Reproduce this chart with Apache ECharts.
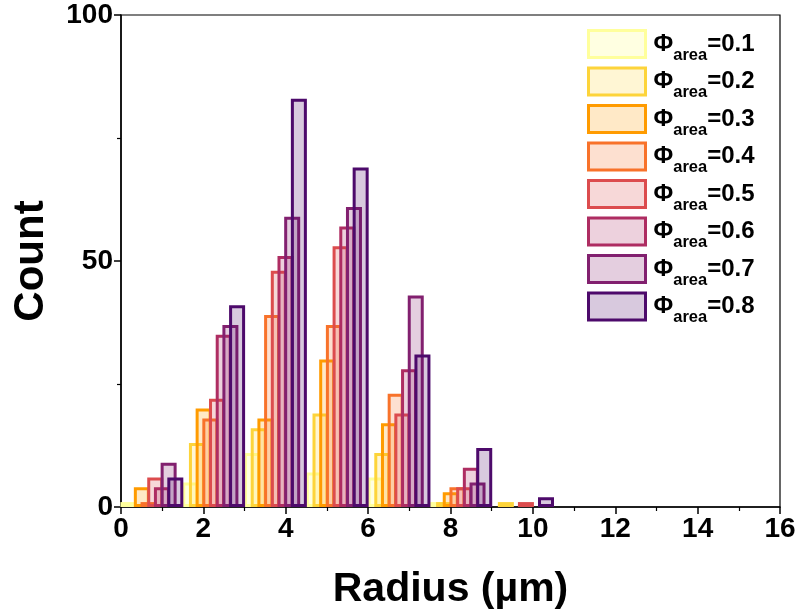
<!DOCTYPE html>
<html>
<head>
<meta charset="utf-8">
<script src="https://cdn.jsdelivr.net/npm/echarts@6/dist/echarts.min.js"></script>
<style>
  html, body { margin: 0; padding: 0; background: #fff; }
  #main { width: 801px; height: 615px; }
</style>
</head>
<body>
<div id="main"></div>
<script>
// bin centres of the histogram (radius, µm)
const binCenters = [0.75, 2.25, 3.75, 5.25, 6.75, 8.25, 9.75];
// counts per bin for each area fraction
const phi01 = [1, 5, 11, 7, 6, 1, 0];
const phi02 = [0, 13, 16, 19, 11, 1, 1];
const phi03 = [4, 20, 18, 30, 17, 3, 0];
const phi04 = [1, 18, 39, 37, 23, 4, 0];
const phi05 = [6, 22, 48, 53, 19, 4, 1];
const phi06 = [4, 35, 51, 57, 28, 8, 0];
const phi07 = [9, 37, 59, 61, 43, 5, 0];
const phi08 = [6, 41, 83, 69, 31, 12, 2];
const phiLabels = ['0.1', '0.2', '0.3', '0.4', '0.5', '0.6', '0.7', '0.8'];
const xTicks = [0, 2, 4, 6, 8, 10, 12, 14, 16];
const yTicks = [0, 50, 100];

const allCounts = [phi01, phi02, phi03, phi04, phi05, phi06, phi07, phi08];
const colors = ['#FFFF9C', '#FDD43A', '#FF9B00', '#F8722A', '#DC4C4E', '#AE2D62', '#82206F', '#4D0A6B'];

function fade(hex, a) {
  const r = parseInt(hex.slice(1, 3), 16), g = parseInt(hex.slice(3, 5), 16), b = parseInt(hex.slice(5, 7), 16);
  return 'rgba(' + r + ',' + g + ',' + b + ',' + a + ')';
}

const step = 0.1625; // shift of each series inside a bin
const series = allCounts.map(function (counts, i) {
  const pts = [];
  counts.forEach(function (c, k) {
    if (c > 0) pts.push([binCenters[k] + (i - 3.5) * step, c]);
  });
  return {
    name: phiLabels[i],
    type: 'bar',
    data: pts,
    barWidth: 16,
    barGap: '-100%',
    itemStyle: {
      color: fade(colors[i], i === 0 ? 0.3 : 0.22),
      borderColor: colors[i],
      borderWidth: 3
    },
    emphasis: { disabled: true }
  };
});

const font = 'Liberation Sans, Arial, sans-serif';
let myChart = echarts.init(document.getElementById('main'));
myChart.setOption({
  animation: false,
  grid: {
    left: 121, right: 21, top: 15, bottom: 108,
    outerBoundsMode: 'none',
    containLabel: false,
    show: true, borderColor: '#000', borderWidth: 1.2
  },
  legend: {
    orient: 'vertical',
    left: 582,
    top: 24,
    icon: 'rect',
    itemWidth: 57,
    itemHeight: 27,
    itemGap: 3,
    data: phiLabels.map(function (n, i) {
      return { name: n, itemStyle: { color: fade(colors[i], i === 0 ? 0.3 : 0.22), borderColor: colors[i], borderWidth: 3 } };
    }),
    formatter: function (n) { return '{a|Φ}{b|area}{a|=' + n + '}'; },
    textStyle: {
      padding: [0, 0, 0, 3],
      rich: {
        a: { fontFamily: font, fontWeight: 'bold', fontSize: 24, color: '#000', lineHeight: 25, verticalAlign: 'middle' },
        b: { fontFamily: font, fontWeight: 'bold', fontSize: 16.5, color: '#000', lineHeight: 25, verticalAlign: 'bottom', padding: [0, 0, -7, 0] }
      }
    }
  },
  xAxis: {
    type: 'value',
    min: 0, max: 16, interval: 2,
    name: 'Radius (µm)',
    nameLocation: 'middle',
    nameGap: 62,
    nameTextStyle: { fontFamily: font, fontWeight: 'bold', fontSize: 41, color: '#000' },
    axisLine: { lineStyle: { color: '#000', width: 1.5 } },
    axisTick: { length: 7, lineStyle: { color: '#000', width: 1.5 } },
    minorTick: { show: true, splitNumber: 2, length: 4, lineStyle: { color: '#000', width: 1.2 } },
    splitLine: { show: false },
    axisLabel: {
      margin: 8,
      fontFamily: font, fontWeight: 'bold', fontSize: 28, color: '#000',
      formatter: function (v) { return xTicks.indexOf(v) >= 0 ? String(v) : ''; }
    }
  },
  yAxis: {
    type: 'value',
    min: 0, max: 100, interval: 50,
    name: 'Count',
    nameLocation: 'middle',
    nameGap: 69,
    nameTextStyle: { fontFamily: font, fontWeight: 'bold', fontSize: 42, color: '#000' },
    axisLine: { show: true, lineStyle: { color: '#000', width: 1.5 } },
    axisTick: { show: true, length: 7, lineStyle: { color: '#000', width: 1.5 } },
    minorTick: { show: true, splitNumber: 2, length: 4, lineStyle: { color: '#000', width: 1.2 } },
    splitLine: { show: false },
    axisLabel: {
      margin: 8,
      fontFamily: font, fontWeight: 'bold', fontSize: 28, color: '#000',
      formatter: function (v) { return yTicks.indexOf(v) >= 0 ? String(v) : ''; }
    }
  },
  series: series
});
window.onresize = function () { myChart.resize(); };
</script>
</body>
</html>
